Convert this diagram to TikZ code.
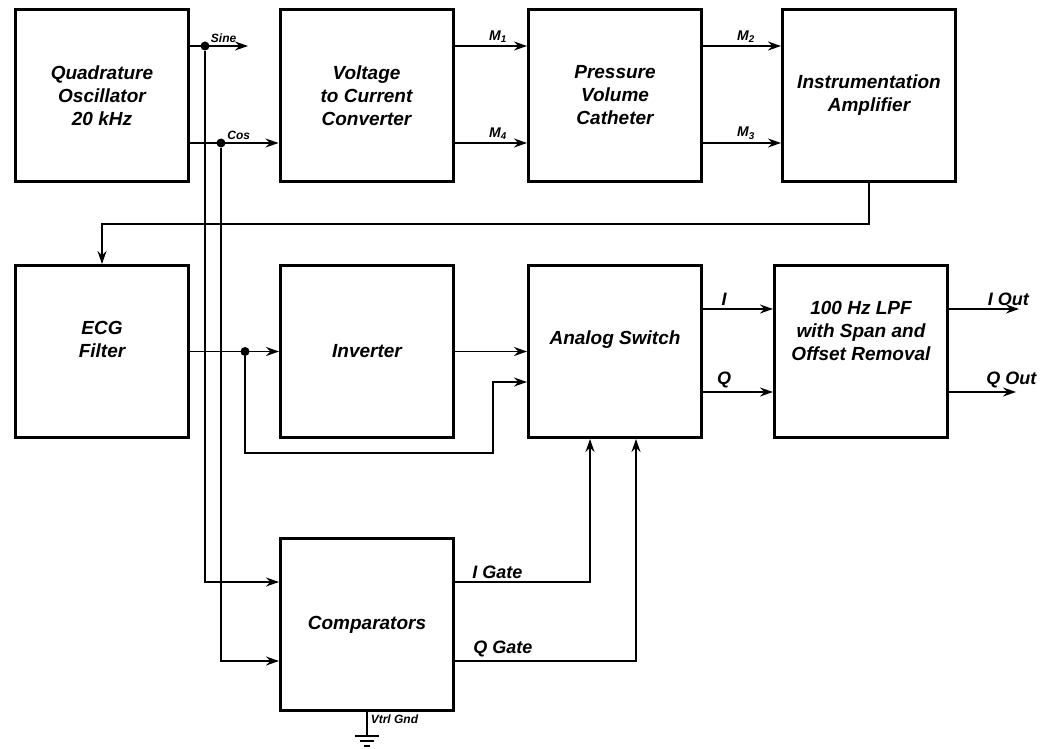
\documentclass[tikz,border=0pt]{standalone}
\usepackage{fontspec}
\setmainfont{Liberation Sans}
\usetikzlibrary{arrows.meta,positioning,calc}

\begin{document}
\begin{tikzpicture}[x=1pt,y=-1pt,
  blk/.style={draw,line width=3pt,minimum width=173pt,minimum height=172pt,
              inner sep=0pt,align=center,
              font=\fontsize{19}{23}\selectfont\bfseries\itshape},
  blktxt/.style={align=center,inner sep=0pt,
              font=\fontsize{19}{23}\selectfont\bfseries\itshape},
  wire/.style={line width=1.6pt},
  arrow/.style={wire,-{Stealth[length=13pt,width=9pt]}},
  dot/.style={circle,fill,inner sep=0pt,minimum size=9pt},
  lbl/.style={font=\fontsize{18}{20}\selectfont\bfseries\itshape,inner sep=3pt},
  mlbl/.style={font=\fontsize{14}{16}\selectfont\bfseries\itshape,inner sep=3pt},
  tiny/.style={font=\fontsize{12}{13}\selectfont\bfseries\itshape,inner sep=3pt}
]
\useasboundingbox (0,0) rectangle (1046,749);

% top row
\node[blk] (osc) at (102,95.5) {Quadrature\\Oscillator\\20 kHz};
\node[blk] (v2i) at (366.5,95.5) {Voltage\\to Current\\Converter};
\node[blk] (pvc) at (615,95.5) {Pressure\\Volume\\Catheter};
\node[blk] (amp) at (869,95.5) {Instrumentation\\Amplifier};
% middle row
\node[blk,label={[blktxt,yshift=12pt]center:{ECG\\Filter}}] (ecg) at (102,351.5) {};
\node[blk] (inv) at (367,351.5) {Inverter};
\node[blk,label={[blktxt,yshift=12pt]center:Analog Switch}] (sw) at (615,351.5) {};
\node[blk,label={[blktxt,yshift=21pt]center:{100 Hz LPF\\with Span and\\Offset Removal}}] (lpf) at (861,351.5) {};
% bottom
\node[blk] (comp) at (367,624.5) {Comparators};

% junctions
\node[dot] (sj) at (205,46) {};
\node[dot] (cj) at (221,143) {};
\node[dot] (ej) at (245,351.5) {};
\coordinate (sinetip) at (248,46);
\coordinate (fb) at (493,453);
\coordinate (iout) at (1019,309);
\coordinate (qout) at (1016,392);

% oscillator outputs
\draw[arrow] (osc.east |- sj) -- node[tiny,above,pos=0.58]{Sine} (sinetip);
\draw[arrow] (osc.east |- cj) -- node[tiny,above,pos=0.55]{Cos} (v2i.west |- cj);
\draw[arrow] (sj) |- ([yshift=42.5pt]comp.west);
\draw[arrow] (cj) |- ([yshift=-36.5pt]comp.west);

% measurement chain
\draw[arrow] (v2i.east |- sj) -- node[mlbl,above,pos=0.6]{M\textsubscript{1}} (pvc.west |- sj);
\draw[arrow] (v2i.east |- cj) -- node[mlbl,above,pos=0.6]{M\textsubscript{4}} (pvc.west |- cj);
\draw[arrow] (pvc.east |- sj) -- node[mlbl,above,pos=0.55]{M\textsubscript{2}} (amp.west |- sj);
\draw[arrow] (pvc.east |- cj) -- node[mlbl,above,pos=0.55]{M\textsubscript{3}} (amp.west |- cj);
\draw[arrow] (amp.south) -- ++(0,41) -| (ecg.north);

% demodulation
\draw[arrow] (ecg) -- (inv);
\draw[arrow] (inv) -- (sw);
\draw[arrow] (ej) |- (fb) |- ([yshift=-30.5pt]sw.west);
\draw[arrow] ([yshift=42.5pt]sw.east) -- node[lbl,above,pos=0.3]{I} ([yshift=42.5pt]lpf.west);
\draw[arrow] ([yshift=-40.5pt]sw.east) -- node[lbl,above,pos=0.3]{Q} ([yshift=-40.5pt]lpf.west);
\draw[arrow] ([yshift=42.5pt]lpf.east) -- node[lbl,above right,pos=0.5]{I Out} (iout);
\draw[arrow] ([yshift=-40.5pt]lpf.east) -- node[lbl,above right,pos=0.5]{Q Out} (qout);

% gates
\draw[arrow] ([yshift=42.5pt]comp.east) -| node[lbl,above right,pos=0.05]{I Gate} ([xshift=-25pt]sw.south);
\draw[arrow] ([yshift=-36.5pt]comp.east) -| node[lbl,above right,pos=0.04]{Q Gate} ([xshift=21pt]sw.south);

% ground
\draw[wire] (comp.south) -- node[tiny,right,pos=0.3]{Vtrl Gnd} ++(0,24) coordinate (gnd);
\draw[wire] ([xshift=-12pt]gnd) -- ([xshift=12pt]gnd);
\draw[wire] ([shift={(-7pt,-5pt)}]gnd) -- ([shift={(7pt,-5pt)}]gnd);
\draw[wire] ([shift={(-3pt,-10pt)}]gnd) -- ([shift={(3pt,-10pt)}]gnd);
\end{tikzpicture}
\end{document}
